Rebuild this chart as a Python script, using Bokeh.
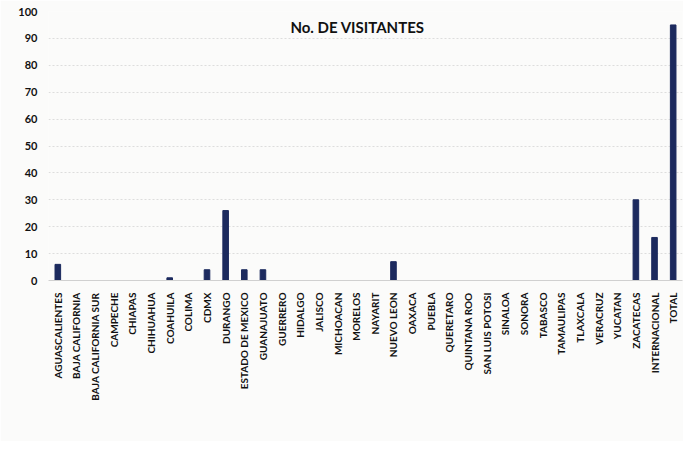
import math
from bokeh.plotting import figure
from bokeh.models import ColumnDataSource, Label, FixedTicker
from bokeh.embed import file_html
from bokeh.resources import INLINE

categories = ["AGUASCALIENTES", "BAJA CALIFORNIA", "BAJA CALIFORNIA SUR", "CAMPECHE",
              "CHIAPAS", "CHIHUAHUA", "COAHUILA", "COLIMA", "CDMX", "DURANGO",
              "ESTADO DE MEXICO", "GUANAJUATO", "GUERRERO", "HIDALGO", "JALISCO",
              "MICHOACAN", "MORELOS", "NAYARIT", "NUEVO LEON", "OAXACA", "PUEBLA",
              "QUERETARO", "QUINTANA ROO", "SAN LUIS POTOSI", "SINALOA", "SONORA",
              "TABASCO", "TAMAULIPAS", "TLAXCALA", "VERACRUZ", "YUCATAN", "ZACATECAS",
              "INTERNACIONAL", "TOTAL"]
visitantes = [6, 0, 0, 0, 0, 0, 1, 0, 4, 26,
              4, 4, 0, 0, 0,
              0, 0, 0, 7, 0, 0,
              0, 0, 0, 0, 0,
              0, 0, 0, 0, 0, 30,
              16, 95]
y_ticks = [0, 10, 20, 30, 40, 50, 60, 70, 80, 90, 100]
title_text = "No. DE VISITANTES"

font = "Lato"
source = ColumnDataSource(dict(cat=categories, val=visitantes))

p = figure(x_range=categories, y_range=(0, 100), width=683, height=441,
           output_backend="svg", toolbar_location=None,
           min_border_left=48, min_border_right=1, min_border_top=11, min_border_bottom=161)
p.background_fill_color = "#fbfbfa"
p.border_fill_color = "#fbfbfa"
p.outline_line_color = None

p.vbar(x="cat", top="val", width=0.3, source=source, color="#1c2a5e")

p.yaxis.ticker = FixedTicker(ticks=y_ticks)
p.yaxis.axis_line_color = None
p.yaxis.major_tick_line_color = None
p.yaxis.minor_tick_line_color = None
p.yaxis.major_label_text_font = font
p.yaxis.major_label_text_font_style = "bold"
p.yaxis.major_label_text_font_size = "11px"
p.yaxis.major_label_text_color = "#111111"

p.xaxis.axis_line_color = "#d0d0d0"
p.xaxis.major_tick_line_color = None
p.xaxis.minor_tick_line_color = None
p.xaxis.major_label_orientation = math.pi / 2
p.xaxis.major_label_text_font = font
p.xaxis.major_label_text_font_style = "bold"
p.xaxis.major_label_text_font_size = "10px"
p.xaxis.major_label_text_color = "#111111"
p.xaxis.major_label_standoff = 6

p.xgrid.grid_line_color = None
p.ygrid.grid_line_color = "#dddddd"
p.ygrid.grid_line_dash = "2 2"

p.add_layout(Label(x=309, y=254, x_units="screen", y_units="screen", text=title_text,
                   text_align="center", text_baseline="middle", text_font=font,
                   text_font_style="bold", text_font_size="15px", text_color="#111111"))

open("out.html", "w").write(file_html(p, INLINE))
